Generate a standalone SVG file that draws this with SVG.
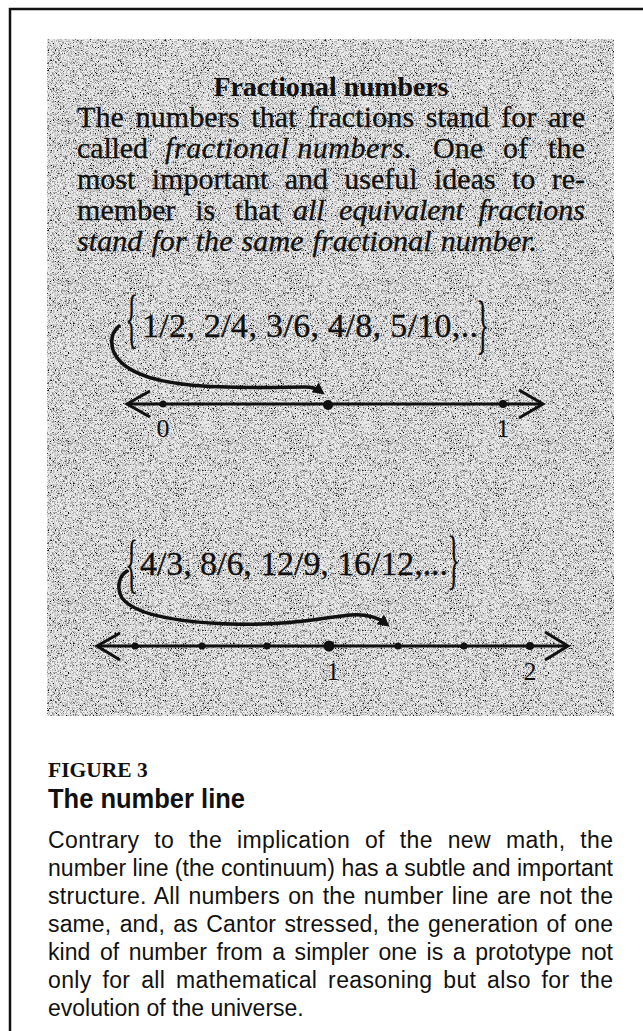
<svg xmlns="http://www.w3.org/2000/svg" width="643" height="1031" viewBox="0 0 643 1031">
<style>
.serif{font-family:"Liberation Serif","Times New Roman",serif;fill:#111}
.sans{font-family:"Liberation Sans",Arial,sans-serif;fill:#111}
.body{font-size:30px;stroke:#111;stroke-width:0.3}
.it{font-style:italic}
.set{font-size:34px;stroke:#111;stroke-width:0.3}
.brace{font-size:66px}
.lbl{font-size:26px;text-anchor:middle}
.cap{font-size:23px}
.axis{stroke:#111;stroke-width:3;fill:none}
.chev{stroke:#111;stroke-width:3;fill:none;stroke-linejoin:miter}
.dot{fill:#111}
.curve{stroke:#111;stroke-width:3.5;fill:none;stroke-linecap:round;marker-end:url(#ah)}
.frame{stroke:#111;stroke-width:2.5;fill:none}
</style>
<defs>
<marker id="ah" viewBox="0 0 10 10" refX="5" refY="5" markerWidth="12" markerHeight="12" markerUnits="userSpaceOnUse" orient="auto">
<path d="M0,0 L10,5 L0,10 z" fill="#111"/>
</marker>
<filter id="grain" x="0" y="0" width="1" height="1">
<feTurbulence type="fractalNoise" baseFrequency="1.6" numOctaves="1" seed="4" result="n"/>
<feColorMatrix in="n" type="matrix" values="0 0 0 0 0  0 0 0 0 0  0 0 0 0 0  3.4 0 0 0 -1.5" result="d"/>
<feFlood flood-color="#ededed" result="bg"/>
<feComposite in="d" in2="bg" operator="over"/>
</filter>
</defs>
<rect width="643" height="1031" fill="#fff"/>
<g id="frame">
<line class="frame" x1="9" y1="9" x2="643" y2="9"/>
<line class="frame" x1="10" y1="8" x2="10" y2="1031"/>
</g>
<g id="panel">
<rect x="47" y="39" width="567" height="677" fill="#c8c8c8" filter="url(#grain)"/>
</g>
<g id="intro">
<text class="serif" x="331" y="96" font-size="28" font-weight="bold" text-anchor="middle" textLength="235">Fractional numbers</text>
<text class="serif body" x="77" y="127" word-spacing="4" textLength="508">The numbers that fractions stand for are</text>
<text class="serif body" x="77" y="158" textLength="71">called</text>
<text class="serif body it" x="165" y="158" textLength="247">fractional numbers.</text>
<text class="serif body" x="433" y="158" word-spacing="12" textLength="152">One of the</text>
<text class="serif body" x="77" y="189" word-spacing="8.8" textLength="508">most important and useful ideas to re-</text>
<text class="serif body" x="77" y="220" word-spacing="12" textLength="203">member is that</text>
<text class="serif body it" x="293" y="220" word-spacing="7" textLength="292">all equivalent fractions</text>
<text class="serif body it" x="77" y="251" word-spacing="1.4" textLength="460">stand for the same fractional number.</text>
</g>
<g id="set-half">
<text class="serif brace" transform="translate(125,340) scale(0.42,1)">{</text>
<text class="serif set" x="142" y="337" textLength="336">1/2, 2/4, 3/6, 4/8, 5/10,..</text>
<text class="serif brace" transform="translate(476,346) scale(0.42,1)">}</text>
</g>
<g id="numberline-1">
<line class="axis" x1="128" y1="404" x2="542" y2="404"/>
<polyline class="chev" points="150,391 127,404 150,417"/>
<polyline class="chev" points="519,390 543,404 519,418"/>
<circle class="dot" cx="163" cy="404" r="3.5"/>
<circle class="dot" cx="328" cy="405" r="5"/>
<circle class="dot" cx="503" cy="404" r="4"/>
<text class="serif lbl" x="163" y="437">0</text>
<text class="serif lbl" x="503" y="437">1</text>
</g>
<g id="set-four-thirds">
<text class="serif brace" transform="translate(125,585) scale(0.42,1)">{</text>
<text class="serif set" x="140" y="575" textLength="308">4/3, 8/6, 12/9, 16/12,...</text>
<text class="serif brace" transform="translate(447,581) scale(0.42,1)">}</text>
</g>
<g id="numberline-2">
<line class="axis" x1="98" y1="646" x2="567" y2="646"/>
<polyline class="chev" points="120,633 97,646 120,660"/>
<polyline class="chev" points="545,632 568,646 545,660"/>
<circle class="dot" cx="135" cy="646" r="3.5"/>
<circle class="dot" cx="202" cy="646" r="3.5"/>
<circle class="dot" cx="267" cy="646" r="3.5"/>
<circle class="dot" cx="329" cy="646" r="5.5"/>
<circle class="dot" cx="398" cy="646" r="3.5"/>
<circle class="dot" cx="464" cy="646" r="3.5"/>
<circle class="dot" cx="530" cy="646" r="4"/>
<text class="serif lbl" x="333" y="680">1</text>
<text class="serif lbl" x="530" y="680">2</text>
</g>
<g id="connectors">
<path class="curve" d="M119,326 C113,331 110,339 113,350 C120,370 150,381 190,385 C230,389 280,387 305,387 C312,387 316,388 320,391"/>
<path class="curve" d="M127,571 C119,576 116,588 122,598 C135,615 175,622 230,624 C290,626 320,618 350,615 C365,614 376,616 385,623"/>
</g>
<g id="caption">
<text class="serif" x="48" y="777" font-size="21.5" font-weight="bold">FIGURE 3</text>
<text class="sans" x="48" y="808" font-size="27" font-weight="bold" textLength="197" lengthAdjust="spacingAndGlyphs">The number line</text>
<text class="sans cap" x="48" y="848" word-spacing="8" textLength="565">Contrary to the implication of the new math, the</text>
<text class="sans cap" x="48" y="876" textLength="565">number line (the continuum) has a subtle and important</text>
<text class="sans cap" x="48" y="904" word-spacing="1.6" textLength="565">structure. All numbers on the number line are not the</text>
<text class="sans cap" x="48" y="932" word-spacing="1.8" textLength="565">same, and, as Cantor stressed, the generation of one</text>
<text class="sans cap" x="48" y="960" word-spacing="3.2" textLength="565">kind of number from a simpler one is a prototype not</text>
<text class="sans cap" x="48" y="988" word-spacing="4" textLength="565">only for all mathematical reasoning but also for the</text>
<text class="sans cap" x="48" y="1016">evolution of the universe.</text>
</g>
</svg>
